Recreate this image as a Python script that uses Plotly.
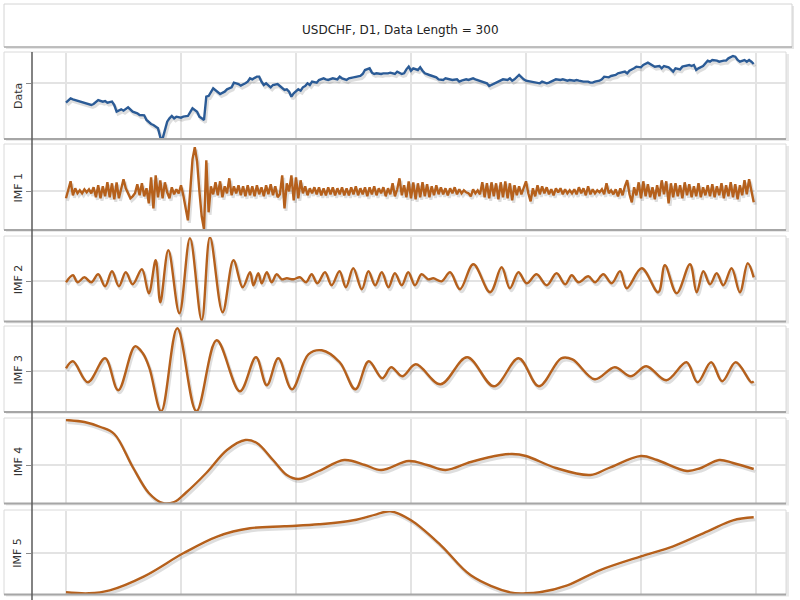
import plotly.graph_objects as go

# ---------------- data ----------------
title_text = "USDCHF, D1, Data Length = 300"
panel_names = ["Data", "IMF 1", "IMF 2", "IMF 3", "IMF 4", "IMF 5"]
x_ticks = [0, 50, 100, 150, 200, 250, 300]

data_day = [0,2,3,5,8,11,12,14,16,17,
            18,20,21,22,24,25,27,28,29,31,
            32,34,35,37,38,40,41,42,43,44,
            45,46,47,48,50,51,53,54,55,57,
            58,59,60,61,62,64,65,66,67,69,
            70,72,73,75,76,78,79,80,81,83,
            84,85,86,87,89,90,92,93,94,95,
            96,97,98,99,101,102,103,104,105,106,
            107,109,110,112,113,114,116,118,119,120,
            122,123,125,126,128,129,130,132,133,134,
            135,137,138,140,141,143,144,146,147,148,
            149,150,151,153,154,155,156,158,159,161,
            162,164,165,167,168,170,171,172,174,175,
            177,178,180,181,183,184,185,186,188,189,
            190,192,193,194,195,197,198,199,200,202,
            203,205,206,207,209,210,212,213,215,216,
            218,219,221,222,223,225,227,228,229,230,
            232,233,234,236,237,239,240,242,243,244,
            245,247,248,250,251,253,254,255,256,258,
            259,260,262,263,264,265,267,268,269,271,
            272,273,274,275,277,278,279,280,281,283,
            284,286,287,288,290,291,292,293,295,296,
            297,298,299]
data_val = [112,125,122,118,112,105,108,120,115,117,
            112,115,105,85,92,88,98,92,85,80,
            75,74,60,48,45,35,8,4,30,55,
            65,72,65,70,67,70,72,85,95,85,
            70,65,60,130,132,155,150,145,138,145,
            152,158,172,168,163,170,175,185,182,190,
            190,175,165,170,158,165,168,162,155,150,
            152,145,130,140,152,148,158,162,170,165,
            175,172,180,185,182,180,185,182,190,185,
            180,185,188,190,192,198,210,215,202,198,
            200,198,200,200,202,198,205,198,200,212,
            220,208,215,210,218,208,200,195,192,188,
            182,180,185,182,180,182,175,178,182,180,
            185,182,178,175,170,162,165,170,175,178,
            182,180,185,178,182,195,188,182,178,175,
            175,172,170,175,170,172,178,182,180,182,
            178,180,178,180,178,175,175,172,172,175,
            178,182,190,188,192,195,200,202,205,200,
            208,215,220,218,225,232,228,225,220,222,
            215,222,218,212,205,215,212,220,222,225,
            222,225,210,215,222,230,238,235,240,238,
            235,238,238,245,252,250,240,235,240,235,
            240,235,228]

imf1_val = [-7,2,10,-4,3,-2,1,-2,2,-1,
            2,-2,4,-6,6,-7,5,-5,9,-6,
            8,-8,9,-7,4,12,3,-3,-7,-5,
            -2,7,-4,8,-5,3,-12,14,-17,16,
            -6,11,-7,9,-1,-7,4,-3,2,-2,
            6,-4,-15,-29,0,32,44,30,0,-25,
            -38,31,-21,5,-3,9,-4,10,-6,5,
            -2,13,-4,5,-2,6,-4,5,-5,6,
            -4,5,-5,6,-3,4,-5,6,-3,7,
            -4,5,-6,-3,16,-17,8,0,16,-9,
            14,-7,11,-2,5,-4,3,-2,4,-3,
            4,-4,3,-4,4,-3,4,-4,3,-3,
            4,-4,3,-4,4,-3,5,-4,3,-3,
            4,-5,4,-3,5,-4,3,-2,4,-5,
            3,-3,8,-5,2,13,-4,6,-6,10,
            -7,9,-8,8,-6,9,-5,7,-6,5,
            -4,6,-3,4,-3,3,-4,3,-2,4,
            -3,2,-2,1,-1,-2,-5,2,-2,1,
            -3,9,-6,8,-7,9,-5,8,-8,9,
            -6,10,-7,8,-9,6,-4,5,-3,4,
            10,-2,-10,3,-5,6,-3,5,-2,4,
            -3,2,-4,3,-1,3,-3,2,-2,1,
            -2,2,-3,4,-2,3,-4,5,-3,2,
            -2,1,-1,2,-3,8,-2,1,-3,2,
            -5,3,-4,5,11,-3,-11,4,-4,9,
            -7,10,-5,7,-6,4,-8,6,-5,11,
            -3,10,-12,8,-6,8,-5,6,-7,9,
            -4,7,-6,5,-5,8,-6,4,-4,6,
            -5,7,-6,5,-4,8,-7,6,-5,9,
            -6,7,-8,6,-4,11,-3,12,2,-11]
imf1_day = list(range(len(imf1_val)))

imf2_day = [0,3,5,8,11,14,17,20,23,26,
            29,33,36,39,41,44.5,49.3,53.9,59,62.6,
            68.1,72.8,76.8,80,81.5,83.6,85.1,87.3,89.4,91.6,
            93.8,96,98.9,101.7,104.4,106.8,109.3,112.6,115.5,118.9,
            121.7,124.9,128.6,131.5,134.4,137.3,140.2,143,146,148.8,
            151.7,154.6,157.5,159.7,163.3,167,171.3,177.1,184.4,189.4,
            193,196.7,200.3,204.6,209,213.3,217,219.9,222.8,227.1,
            230,233.6,237.3,240.9,243.8,250.3,257.5,260.4,265.5,271.3,
            274.2,277.1,280,282.9,285.8,289.4,293,296.4,299]
imf2_val = [-1,6,-1,4,-1,7,-5,10,-5,9,
            -3,12,-12,21,-21,31,-32,43,-39,44,
            -31,21,-6,9,-4,8,-2,9,-1,7,
            2,3,2,4,-1,7,-2,9,-4,10,
            -6,13,-8,10,-4,9,-6,8,-4,9,
            -4,7,2,3,0,9,-8,17,-11,14,
            -7,9,-2,7,-4,8,-3,6,-1,5,
            -1,7,-2,10,-7,13,-11,16,-12,17,
            -11,10,-3,8,-4,13,-11,18,4]

imf3_day = [0,3,9.5,17,22.7,30,33.4,36.3,41.4,48.4,
            56.7,65.5,75.6,82.6,87.3,92.3,98.2,105.4,111.2,119,
            125.8,131.6,137.5,141.4,146.2,152.1,162.8,174.4,186.1,196.8,
            205.6,215.3,220.2,229.9,238.6,245.5,252.3,261,269.8,274.6,
            280.5,285.3,291.2,298,299]
imf3_val = [3,10,-11,13,-19,25,18,3,-40,43,
            -40,31,-20,14,-14,13,-18,17,21,9,
            -18,10,-7,4,-5,7,-13,14,-15,13,
            -15,13,12,-8,4,-5,5,-9,9,-11,
            9,-10,9,-11,-10]

imf4_day = [0,8,15,21,29,36,42,47,52,61,
            70,78,83,90,96,101,110,121,130,137,
            149,157,165,176,189,194,200,213,228,236,
            250,257,270,276,284,290,299]
imf4_val = [45,43,38,31,-2,-28,-38,-37,-28,-8,
            15,25,22,5,-10,-14,-6,5,0,-5,
            4,0,-5,3,10,11,9,-3,-10,-3,
            9,5,-6,-3,5,2,-4]

imf5_day = [0,10,19,34,51,66,80,95,110,125,
            135,141,150,163,176,193,200,206,218,232,
            250,264,279,290,299]
imf5_val = [-39,-40,-37,-23,0,17,25,27,29,33,
            39,42,33,8,-22,-39,-40,-39,-32,-17,
            -3,7,22,33,36]

series = [
    (data_day, data_val, "linear"),
    (imf1_day, imf1_val, "linear"),
    (imf2_day, imf2_val, "spline"),
    (imf3_day, imf3_val, "spline"),
    (imf4_day, imf4_val, "spline"),
    (imf5_day, imf5_val, "spline"),
]
# y ranges and single tick per panel (value units)
y_ranges = [[3, 261], [-38.7, 46.3], [-40.2, 44.3], [-40.7, 44.3], [-38.5, 46], [-41.2, 42.3]]
y_ticks = [170, 0, 0, 0, 0, 0]

# ---------------- layout geometry (pixels) ----------------
W, H = 800, 600
panel_px = [(53, 139), (145, 230), (237, 321.5), (327, 412), (419, 503.5), (511, 594.5)]
PLOT_L, PLOT_R = 32, 786
BOX_L = 4
PX_PER_DAY = 2.3
x_range = [(PLOT_L - 66) / PX_PER_DAY, (PLOT_R - 66) / PX_PER_DAY]

def fx(p): return p / W
def fy(p): return 1 - p / H

BLUE = "#2b5b96"
BROWN = "#b5601c"
SHADOW = "rgba(0,0,0,0.13)"
FONT = "DejaVu Sans"

fig = go.Figure()
shapes = []
annotations = []

# title box
shapes.append(dict(type="rect", xref="paper", yref="paper", x0=fx(6), x1=fx(794), y0=fy(49), y1=fy(6),
                   fillcolor="#e6e6e6", line=dict(width=0), layer="below"))
shapes.append(dict(type="rect", xref="paper", yref="paper", x0=fx(4), x1=fx(792), y0=fy(47), y1=fy(4),
                   fillcolor="white", line=dict(color="#d4d4d4", width=1), layer="below"))
shapes.append(dict(type="line", xref="paper", yref="paper", x0=fx(4), x1=fx(792), y0=fy(47), y1=fy(47),
                   line=dict(color="#b0b0b0", width=1.5), layer="below"))
annotations.append(dict(text=title_text, xref="paper", yref="paper", x=fx(400), y=fy(30),
                        showarrow=False, font=dict(family=FONT, size=12, color="#222"),
                        xanchor="center", yanchor="middle"))

for i, ((top, bot), (xs, ys, shape), name) in enumerate(zip(panel_px, series, panel_names)):
    k = "" if i == 0 else str(i + 1)
    color = BLUE if i == 0 else BROWN
    # shadow + box
    shapes.append(dict(type="rect", xref="paper", yref="paper", x0=fx(BOX_L + 2), x1=fx(PLOT_R + 3),
                       y0=fy(bot + 2), y1=fy(top + 1), fillcolor="#e9e9e9", line=dict(width=0), layer="below"))
    shapes.append(dict(type="rect", xref="paper", yref="paper", x0=fx(BOX_L), x1=fx(PLOT_R),
                       y0=fy(bot), y1=fy(top - 1), fillcolor="white",
                       line=dict(color="#dadada", width=1), layer="below"))
    shapes.append(dict(type="line", xref="paper", yref="paper", x0=fx(BOX_L), x1=fx(PLOT_R),
                       y0=fy(bot), y1=fy(bot), line=dict(color="#a6a6a6", width=2), layer="above"))

    # soft drop shadow of the line (same data, shifted ~2px down/right)
    units_per_px = (y_ranges[i][1] - y_ranges[i][0]) / (bot - top)
    fig.add_trace(go.Scatter(x=[d + 1.5 / PX_PER_DAY for d in xs], y=[v - 2.5 * units_per_px for v in ys],
                             mode="lines", line=dict(color=SHADOW, width=3, shape=shape),
                             xaxis="x" + k, yaxis="y" + k, showlegend=False, hoverinfo="skip"))
    fig.add_trace(go.Scatter(x=xs, y=ys, mode="lines", line=dict(color=color, width=2.4, shape=shape),
                             xaxis="x" + k, yaxis="y" + k, showlegend=False, hoverinfo="skip"))

    fig.layout["xaxis" + k] = dict(domain=[fx(PLOT_L), fx(PLOT_R)], range=x_range, anchor="y" + k,
                                   tickvals=x_ticks, showticklabels=False, ticks="",
                                   showgrid=True, gridcolor="#e3e3e3", gridwidth=1.5,
                                   zeroline=False, showline=False, fixedrange=True)
    fig.layout["yaxis" + k] = dict(domain=[fy(bot), fy(top)], range=y_ranges[i], anchor="x" + k,
                                   tickvals=[y_ticks[i]], showticklabels=False, ticks="outside",
                                   ticklen=5, tickcolor="#8a8a8a", tickwidth=1,
                                   showgrid=True, gridcolor="#e3e3e3", gridwidth=1.5,
                                   zeroline=False, showline=False, fixedrange=True)
    annotations.append(dict(text=name, xref="paper", yref="paper", x=fx(18), y=fy((top + bot) / 2),
                            textangle=-90, showarrow=False, xanchor="center", yanchor="middle",
                            font=dict(family=FONT, size=11, color="#333")))

# continuous y-axis spine
shapes.append(dict(type="line", xref="paper", yref="paper", x0=fx(PLOT_L), x1=fx(PLOT_L),
                   y0=0, y1=fy(52), line=dict(color="#5a5a5a", width=1.5), layer="above"))

fig.update_layout(width=W, height=H, margin=dict(l=0, r=0, t=0, b=0),
                  paper_bgcolor="white", plot_bgcolor="rgba(0,0,0,0)",
                  shapes=shapes, annotations=annotations, font=dict(family=FONT))

fig.write_html("out.html")
